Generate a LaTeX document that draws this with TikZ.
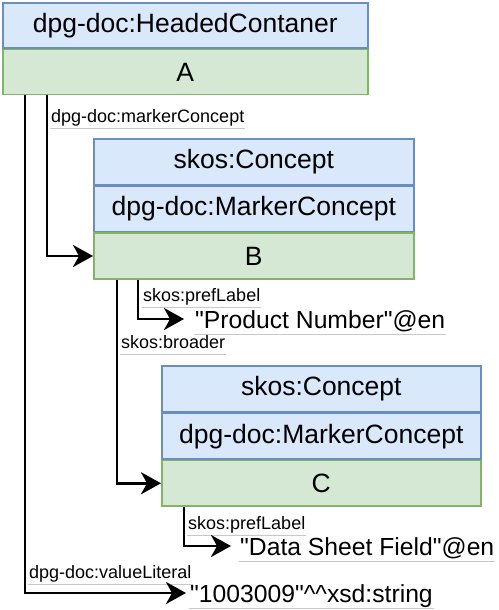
\documentclass[tikz,border=0pt]{standalone}
\usepackage{fontspec}
\setmainfont{Liberation Sans}[Ligatures=TeXOff]
\usetikzlibrary{arrows.meta}
\definecolor{hdrfill}{HTML}{DAE8FC}
\definecolor{hdrline}{HTML}{6C8EBF}
\definecolor{valfill}{HTML}{D5E8D4}
\definecolor{valline}{HTML}{82B366}
\definecolor{ulgray}{HTML}{C8C8C8}
\newcommand{\boxfont}{\fontsize{26.5}{30}\selectfont}
\newcommand{\litfont}{\fontsize{24.7}{28}\selectfont}
\newcommand{\lblfont}{\fontsize{18}{21}\selectfont}
\begin{document}
\begin{tikzpicture}[x=1pt,y=-1pt,
  hdr/.style={draw=hdrline, fill=hdrfill, line width=1.6pt, inner sep=0pt, font=\boxfont},
  val/.style={draw=valline, fill=valfill, line width=1.6pt, inner sep=0pt, font=\boxfont},
  lit/.style={font=\litfont, inner xsep=1pt, inner ysep=0pt, text height=24pt, text depth=6pt},
  lbl/.style={font=\lblfont, inner xsep=1pt, inner ysep=0pt, text height=14pt, text depth=6pt},
  ul/.style={draw=ulgray, line width=0.9pt},
  conn/.style={line width=2.8pt, -{Stealth[length=20pt 0 0,width=22pt 0 0,inset=6pt 0 0]}}]
\useasboundingbox (0,0) rectangle (498,610);

% group A
\node[hdr, minimum width=365pt, minimum height=45pt, anchor=north west] (Ahead) at (2,2) {dpg-doc:HeadedContaner};
\node[val, minimum width=365pt, minimum height=45pt, anchor=north] (A) at (Ahead.south) {A};

% group B
\node[hdr, minimum width=320pt, minimum height=45.5pt, anchor=north west] (Bh1) at (93,138) {skos:Concept};
\node[hdr, minimum width=320pt, minimum height=45.5pt, anchor=north] (Bh2) at (Bh1.south) {dpg-doc:MarkerConcept};
\node[val, minimum width=320pt, minimum height=46pt, anchor=north] (B) at (Bh2.south) {B};

% group C
\node[hdr, minimum width=319pt, minimum height=46pt, anchor=north west] (Ch1) at (161,365) {skos:Concept};
\node[hdr, minimum width=319pt, minimum height=45.5pt, anchor=north] (Ch2) at (Ch1.south) {dpg-doc:MarkerConcept};
\node[val, minimum width=319pt, minimum height=45.5pt, anchor=north] (C) at (Ch2.south) {C};

% literals
\node[lit, anchor=base west] (P) at (194,328) {"Product Number"@en};
\node[lit, anchor=base west] (D) at (239,555) {"Data Sheet Field"@en};
\node[lit, anchor=base west] (V) at (189,602) {"1003009"\textasciicircum\textasciicircum xsd:string};
\draw[ul] (P.south west) -- (P.south east);
\draw[ul] (D.south west) -- (D.south east);
\draw[ul] (V.south west) -- (V.south east);

% edge labels
\node[lbl, anchor=base west] (l1) at (50,122) {dpg-doc:markerConcept};
\node[lbl, anchor=base west] (l2) at (142,301) {skos:prefLabel};
\node[lbl, anchor=base west] (l3) at (120,348) {skos:broader};
\node[lbl, anchor=base west] (l4) at (187,529) {skos:prefLabel};
\node[lbl, anchor=base west] (l5) at (28,578) {dpg-doc:valueLiteral};
\foreach \n in {l1,l2,l3,l4,l5} \draw[ul] (\n.south west) -- (\n.south east);

% connectors
\draw[conn] ([xshift=45pt]A.south west) |- (B.west);
\draw[conn] ([xshift=23pt]A.south west) |- ([xshift=-3pt]V.west);
\draw[conn] ([xshift=24pt]B.south west) |- (C.west);
\draw[conn] ([xshift=45pt]B.south west) |- ([xshift=-10pt]P.west);
\draw[conn] ([xshift=23pt]C.south west) |- ([xshift=-8pt]D.west);
\end{tikzpicture}
\end{document}
